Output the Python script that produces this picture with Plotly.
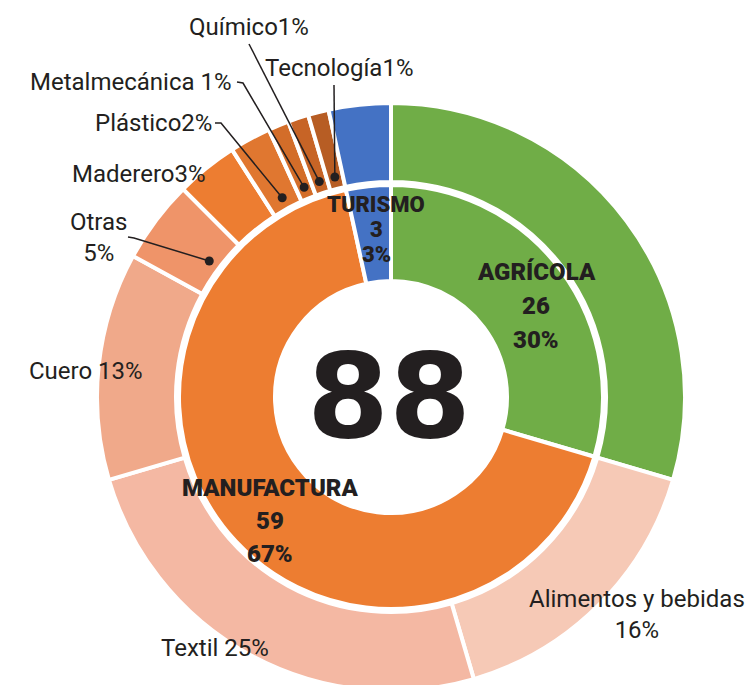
import math
import plotly.graph_objects as go

# ---------------- data ----------------
sector_names = ["AGRÍCOLA", "MANUFACTURA", "TURISMO"]
sector_values = [26, 59, 3]
sector_colors = ["#70AD47", "#ED7D31", "#4472C4"]

sub_names = ["Agrícola", "Alimentos y bebidas", "Textil", "Cuero", "Otras", "Maderero",
             "Plástico", "Metalmecánica", "Químico", "Tecnología", "Turismo"]
sub_values = [26, 14, 22, 11, 4, 3, 2, 1, 1, 1, 3]
sub_colors = ["#70AD47", "#F6C9B6", "#F4B8A3", "#F0A98A", "#EF9469", "#ED7D31",
              "#E07730", "#D36D29", "#C76426", "#B75D24", "#4472C4"]
sub_labels = ["", "Alimentos y bebidas<br>16%", "Textil 25%", "Cuero 13%", "Otras<br>5%",
              "Maderero3%", "Plástico2%", "Metalmecánica 1%", "Químico1%", "Tecnología1%", ""]

total = sum(sector_values)

# ---------------- layout constants (pixels) ----------------
W, H = 753, 700          # figure is a little taller than the window: bottom of the ring is cut
CX, CY = 391, 397
R_OUT, HOLE_OUT_R = 294, 215
R_IN, HOLE_IN_R = 212, 116
TXT = "#231F20"
FONT = "Roboto"

def dom(r):
    return dict(x=[(CX - r) / W, (CX + r) / W],
                y=[max(0.0, (H - CY - r) / H), (H - CY + r) / H])

fig = go.Figure()
fig.add_trace(go.Pie(
    labels=sub_names, values=sub_values, sort=False, direction="clockwise", rotation=0,
    hole=HOLE_OUT_R / R_OUT, domain=dom(R_OUT), textinfo="none", hoverinfo="label+value",
    marker=dict(colors=sub_colors, line=dict(color="white", width=4)), showlegend=False))
fig.add_trace(go.Pie(
    labels=sector_names, values=sector_values, sort=False, direction="clockwise", rotation=0,
    hole=HOLE_IN_R / R_IN, domain=dom(R_IN), textinfo="none", hoverinfo="label+value",
    marker=dict(colors=sector_colors, line=dict(color="white", width=4)), showlegend=False))

# hidden pixel-space axes for annotations and leader lines
fig.update_xaxes(range=[0, W], visible=False, fixedrange=True)
fig.update_yaxes(range=[H, 0], visible=False, fixedrange=True)

annotations = []

# centre total
annotations.append(dict(x=CX - 2, y=396, xref="x", yref="y", text=str(total), showarrow=False,
                        font=dict(family="DejaVu Sans", size=118, color=TXT, weight=700)))

# inner ring labels: centre of the three lines, line spacing, font size
inner_pos = {"AGRÍCOLA": (536, 306, 34, 24), "MANUFACTURA": (270, 521, 33, 24),
             "TURISMO": (376, 229, 25, 22)}
for name, val in zip(sector_names, sector_values):
    x, y, sp, fs = inner_pos[name]
    pct = f"{round(100 * val / total)}%"
    for k, t in enumerate([name, str(val), pct]):
        annotations.append(dict(x=x, y=y + (k - 1) * sp, xref="x", yref="y", text=t,
                                showarrow=False,
                                font=dict(family=FONT, size=fs, color=TXT, weight=900)))

# outer labels
label_pos = {"Alimentos y bebidas": (637, 614), "Textil": (215, 648), "Cuero": (86, 371),
             "Otras": (98, 237), "Maderero": (139, 174), "Plástico": (153, 123),
             "Metalmecánica": (131, 82), "Químico": (249, 27), "Tecnología": (339, 68)}
for name, lab in zip(sub_names, sub_labels):
    if not lab:
        continue
    x, y = label_pos[name]
    annotations.append(dict(x=x, y=y, xref="x", yref="y", text=lab, showarrow=False,
                            font=dict(family=FONT, size=24, color=TXT, weight=400)))

# leader lines: start points (pixels) and dots at slice mid-angle
leader_start = {"Otras": [(128, 237), (134, 238)], "Plástico": [(215, 123), (221, 123)],
                "Metalmecánica": [(237, 82), (243, 83)], "Químico": [(249, 44)],
                "Tecnología": [(334, 85)]}
DOT_R = 227
shapes = []
cum = 0
for name, val in zip(sub_names, sub_values):
    mid = (cum + val / 2) / total * 2 * math.pi
    cum += val
    if name not in leader_start:
        continue
    dx = CX + DOT_R * math.sin(mid)
    dy = CY - DOT_R * math.cos(mid)
    pts = leader_start[name] + [(dx, dy)]
    path = "M " + " L ".join(f"{px},{py}" for px, py in pts)
    shapes.append(dict(type="path", path=path, xref="x", yref="y",
                       line=dict(color=TXT, width=1.5)))
    shapes.append(dict(type="circle", xref="x", yref="y", x0=dx - 4.5, x1=dx + 4.5,
                       y0=dy - 4.5, y1=dy + 4.5, fillcolor=TXT, line=dict(width=0)))

fig.update_layout(width=W, height=H, margin=dict(l=0, r=0, t=0, b=0),
                  paper_bgcolor="white", plot_bgcolor="rgba(0,0,0,0)",
                  annotations=annotations, shapes=shapes, showlegend=False)

fig.write_html("out.html", config={"displayModeBar": False},
               post_script="document.body.style.margin='0';document.body.style.overflow='hidden';")
